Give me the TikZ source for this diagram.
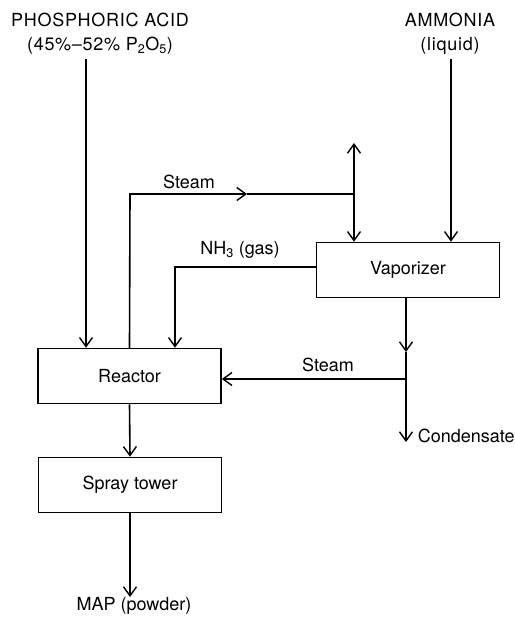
\documentclass[tikz,border=0pt]{standalone}
\usepackage{fontspec}
\setmainfont{TeX Gyre Heros}
\usetikzlibrary{arrows.meta}
\begin{document}
\begin{tikzpicture}[x=1pt,y=-1pt,
  line width=1.6pt,
  font=\fontsize{18}{23}\selectfont,
  unit/.style={draw,line width=1.6pt,minimum width=183pt,minimum height=55pt,inner sep=0pt},
  lbl/.style={inner sep=0pt},
  caps/.style={lbl,align=center,font=\fontsize{18}{24}\selectfont\addfontfeatures{LetterSpace=4}},
  arr/.style={-{Straight Barb[length=9pt,width=13pt,line width=1.4pt]}},
  flow/.style={line cap=rect}]
  \useasboundingbox (0,0) rectangle (514,618);

  % process units
  \node[unit] (reactor) at (129.5,376) {Reactor};
  \node[unit] (spray)   at (130,485)   {Spray tower};
  \node[unit] (vap)     at (408,270)   {Vaporizer};

  % feed and product labels
  \node[caps] (acid) at (100,34)
    {PHOSPHORIC ACID\\(45\%--52\% P\textsubscript{2}O\textsubscript{5})};
  \node[caps] (nh3) at (450,34) {AMMONIA\\(liquid)};
  \node[lbl] (map) at (134,606) {MAP (powder)};

  % stream labels
  \node[lbl] (steamtop) at (189,182) {Steam};
  \node[lbl] (gas) at (240,250) {NH\textsubscript{3} (gas)};
  \node[lbl] (steamlow) at (328,365) {Steam};
  \node[lbl,anchor=west] (cond) at (417,436) {Condensate};

  % junctions and free ends
  \coordinate (acidtop) at (86,59);
  \coordinate (nh3top) at (451,59);
  \coordinate (corner) at (130,194);
  \coordinate (mid) at (247,194);
  \coordinate (split) at (354,194);
  \coordinate (vent) at (354,143);
  \coordinate (gasout) at (316,267);
  \coordinate (gasbend) at (175,267);
  \coordinate (vapmid) at (406,352);
  \coordinate (tee) at (406,379);
  \coordinate (drain) at (406,442);
  \coordinate (prod) at (130,597);

  % feeds
  \draw[arr] (acidtop) -- (acidtop |- reactor.north);
  \draw[arr] (nh3top) -- (nh3top |- vap.north);

  % steam supply, split to vent and vaporizer
  \draw[flow] (reactor.north) -- (corner);
  \draw[arr] (corner) -- (mid);
  \draw (mid) -- (split);
  \draw[arr] (split) -- (vent);
  \draw[arr] (split) -- (split |- vap.north);

  % ammonia gas to reactor
  \draw[arr] (gasout) -- (gasbend) -- (gasbend |- reactor.north);

  % vaporizer outlet: steam to reactor, condensate out
  \draw[arr] (vapmid |- vap.south) -- (vapmid);
  \draw[arr] (vapmid) -- (drain);
  \draw[arr] (tee) -- (tee -| reactor.east);

  % product line
  \draw[arr] (reactor.south) -- (spray.north);
  \draw[arr] (spray.south) -- (prod);
\end{tikzpicture}
\end{document}
